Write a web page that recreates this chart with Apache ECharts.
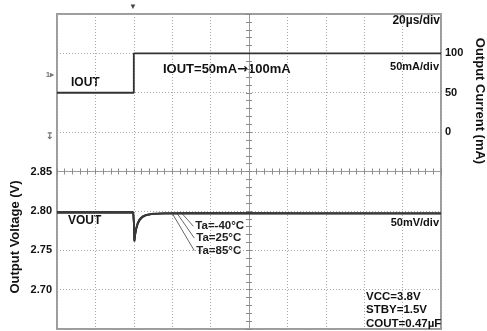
<!DOCTYPE html>
<html>
<head>
<meta charset="utf-8">
<script src="https://cdn.jsdelivr.net/npm/echarts@6/dist/echarts.min.js"></script>
<style>
html,body{margin:0;padding:0;background:#fff;}
#chart{width:487px;height:331px;}
</style>
</head>
<body>
<div id="chart"></div>
<script>
// ---- data ----
const timeRange = [0, 200];            // µs, 20 µs/div
const voltRange = [2.65, 3.05];        // V, 50 mV/div
const currRange = [-250, 150];         // mA, 50 mA/div
const voltTickLabels = [2.70, 2.75, 2.80, 2.85];
const currTickLabels = [0, 50, 100];

const iTime  = [0, 40, 40, 200];
const iValue = [50, 50, 100, 100];

const vTime  = [0, 39.7, 40.0, 40.3, 40.7, 41.2, 42.0, 43.0, 44.5, 46.5, 50, 56, 70, 100, 140, 200];
const vM40   = [2.7985, 2.7985, 2.785, 2.761, 2.769, 2.776, 2.783, 2.788, 2.792, 2.7945, 2.796, 2.797, 2.7972, 2.7972, 2.797, 2.797];
const v25    = [2.798, 2.798, 2.786, 2.762, 2.770, 2.777, 2.784, 2.789, 2.7925, 2.795, 2.7965, 2.7968, 2.797, 2.7968, 2.797, 2.7968];
const v85    = [2.7975, 2.7975, 2.787, 2.763, 2.771, 2.778, 2.785, 2.7895, 2.793, 2.795, 2.7962, 2.7965, 2.7966, 2.7966, 2.7965, 2.7965];

const taLabels = ['Ta=-40°C', 'Ta=25°C', 'Ta=85°C'];
const taStartT = [65, 62.5, 60];
const taStartV = [2.797, 2.797, 2.797];
const taEndT   = [71, 71.5, 71.5];
const taEndV   = [2.7805, 2.7655, 2.7495];

// ---- chart ----
const FONT = "'Liberation Sans', Arial, sans-serif";
const pairs = (t, v) => t.map((x, i) => [x, v[i]]);
const chart = echarts.init(document.getElementById('chart'), null, {renderer: 'canvas'});

const gridLine = {show: true, lineStyle: {color: '#a8a8a8', width: 1, type: [1, 2]}};
const crossBase = {
  axisLine: {show: true, onZero: false, lineStyle: {color: '#9a9a9a', width: 1}},
  axisTick: {show: true, length: 3, lineStyle: {color: '#8a8a8a'}},
  minorTick: {show: true, splitNumber: 5, length: 3, lineStyle: {color: '#8a8a8a'}},
  axisLabel: {show: false}, splitLine: {show: false}, silent: true
};

const voltSeries = [vM40, v25, v85].map((vals, k) => ({
  type: 'line', name: taLabels[k], xAxisIndex: 0, yAxisIndex: 0,
  data: pairs(vTime, vals), showSymbol: false, symbol: 'none',
  lineStyle: {color: ['#1a1a1a', '#2a2a2a', '#3a3a3a'][k], width: 1.7},
  z: 5, animation: false,
  markLine: {
    silent: true, symbol: ['none', 'none'], animation: false,
    lineStyle: {color: '#666', width: 1, type: 'solid'},
    label: {show: false},
    data: [[{coord: [taStartT[k], taStartV[k]]}, {coord: [taEndT[k], taEndV[k]]}]]
  },
  markPoint: {
    silent: true, animation: false, symbol: 'circle', symbolSize: 0,
    label: {show: true, position: 'right', distance: 2, formatter: taLabels[k],
            color: '#222', fontFamily: FONT, fontSize: 11.5, fontWeight: 'bold'},
    data: [{coord: [taEndT[k], taEndV[k]]}]
  }
}));

const option = {
  animation: false,
  textStyle: {fontFamily: FONT},
  grid: {left: 57, right: 46, top: 14, bottom: 2, show: true, borderColor: '#9c9c9c', borderWidth: 2, backgroundColor: 'transparent'},
  xAxis: [
    {type: 'value', min: timeRange[0], max: timeRange[1], interval: 20,
     axisLine: {show: false, onZero: false}, axisTick: {show: false}, axisLabel: {show: false},
     splitLine: gridLine},
    Object.assign({type: 'value', position: 'top', offset: -157.5, min: timeRange[0], max: timeRange[1], interval: 20}, crossBase,
      {axisTick: Object.assign({}, crossBase.axisTick, {inside: true}), minorTick: crossBase.minorTick}),
    Object.assign({type: 'value', position: 'top', offset: -157.5, min: timeRange[0], max: timeRange[1], interval: 20}, crossBase,
      {axisTick: Object.assign({}, crossBase.axisTick, {inside: false})})
  ],
  yAxis: [
    {type: 'value', position: 'left', min: voltRange[0], max: voltRange[1], interval: 0.05,
     axisLine: {show: false, onZero: false}, axisTick: {show: false},
     axisLabel: {show: true, margin: 5, color: '#111', fontFamily: FONT, fontSize: 11, fontWeight: 'bold',
       formatter: v => { const r = Math.round(v * 100) / 100; return voltTickLabels.some(t => Math.abs(t - r) < 1e-6) ? r.toFixed(2) : ''; }},
     splitLine: gridLine},
    {type: 'value', position: 'right', min: currRange[0], max: currRange[1], interval: 50,
     axisLine: {show: false, onZero: false}, axisTick: {show: false},
     axisLabel: {show: true, margin: 4, color: '#111', fontFamily: FONT, fontSize: 11, fontWeight: 'bold',
       formatter: v => currTickLabels.indexOf(Math.round(v)) >= 0 ? String(Math.round(v)) : ''},
     splitLine: {show: false}},
    Object.assign({type: 'value', position: 'left', offset: -192, min: 0, max: 8, interval: 1}, crossBase,
      {axisTick: Object.assign({}, crossBase.axisTick, {inside: true})}),
    Object.assign({type: 'value', position: 'left', offset: -192, min: 0, max: 8, interval: 1}, crossBase,
      {axisTick: Object.assign({}, crossBase.axisTick, {inside: false})})
  ],
  series: [
    {type: 'line', name: 'IOUT', xAxisIndex: 0, yAxisIndex: 1, data: pairs(iTime, iValue),
     showSymbol: false, symbol: 'none', lineStyle: {color: '#333', width: 1.8}, z: 5}
  ].concat(voltSeries),
  graphic: [
    {type: 'text', left: 163, top: 63, style: {
      text: '{a|IOUT=50mA}{b|→}{a|100mA}',
      rich: {a: {font: 'bold 13px ' + FONT, fill: '#111'},
             b: {font: 'bold 13px "DejaVu Sans", sans-serif', fill: '#111'}}}},
    {type: 'text', left: 71, top: 77, style: {text: 'IOUT', font: 'bold 12px ' + FONT, fill: '#111'}},
    {type: 'text', left: 68, top: 215, style: {text: 'VOUT', font: 'bold 12px ' + FONT, fill: '#111'}},
    {type: 'text', right: 47, top: 15, style: {text: '20µs/div', font: 'bold 12px ' + FONT, fill: '#111'}},
    {type: 'text', right: 48, top: 61, style: {text: '50mA/div', font: 'bold 11px ' + FONT, fill: '#111'}},
    {type: 'text', right: 48, top: 217, style: {text: '50mV/div', font: 'bold 11px ' + FONT, fill: '#111'}},
    {type: 'text', left: 366, top: 290, style: {text: 'VCC=3.8V\nSTBY=1.5V\nCOUT=0.47µF', font: 'bold 11.5px ' + FONT, lineHeight: 13.5, fill: '#111'}},
    {type: 'text', x: 15, y: 237, rotation: Math.PI / 2,
     style: {text: 'Output Voltage (V)', font: 'bold 13px ' + FONT, fill: '#111', align: 'center', verticalAlign: 'middle'}},
    {type: 'text', x: 480, y: 101, rotation: -Math.PI / 2,
     style: {text: 'Output Current (mA)', font: 'bold 13px ' + FONT, fill: '#111', align: 'center', verticalAlign: 'middle'}},
    {type: 'text', x: 133, y: 7, style: {text: '▼', font: 'bold 8px ' + FONT, fill: '#444', align: 'center', verticalAlign: 'middle'}},
    {type: 'text', x: 50, y: 75, style: {text: '1▸', font: 'bold 8px ' + FONT, fill: '#777', align: 'center', verticalAlign: 'middle'}},
    {type: 'text', x: 50, y: 137, style: {text: '↧', font: 'bold 9px ' + FONT, fill: '#777', align: 'center', verticalAlign: 'middle'}}
  ]
};
chart.setOption(option);
</script>
</body>
</html>
